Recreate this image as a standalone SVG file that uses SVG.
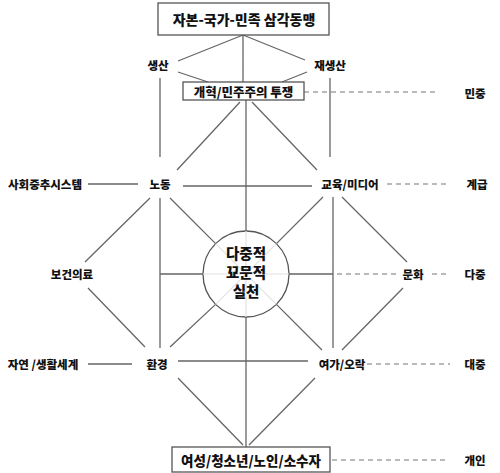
<svg xmlns="http://www.w3.org/2000/svg" width="500" height="473" viewBox="0 0 500 473">
<style>
text{font-family:"Noto Sans CJK KR","Noto Sans",sans-serif;font-weight:900;fill:#111;text-anchor:middle;dominant-baseline:central}
.lbl{font-size:11.5px}
.box{fill:#fff;stroke:#555;stroke-width:1.3}
.ln{stroke:#666;stroke-width:1.3;fill:none}
.ds{stroke:#777;stroke-width:1.2;stroke-dasharray:5 4;fill:none}
.in{stroke:#e2e2e2;stroke-width:1.2}
.big{font-size:14.5px}
</style>
<rect width="500" height="473" fill="#fff"/>
<g id="connectors">
<path class="ln" d="M243,35L178,61M243,35L305,60M243,35V82M178,72L208,82M307,72L282,82M160,78V157M330,78V157"/>
<path class="ln" d="M240,102L177,170M252,102L317,170M246,100V447"/>
<path class="ln" d="M183,186H312M88,184H138"/>
<path class="ln" d="M150,198L85,262M160,198V348M170,198L215.6,243.6M160,274H203M88,288L145,347M215.6,304.4L170,347"/>
<path class="ln" d="M323,197L276.4,243.6M333,197V348M342,197L407,262M289,274H333M403,288L342,350M276.4,304.4L322,350"/>
<path class="ln" d="M88,364H132M178,361H308M178,378L243,445M315,378L249,445"/>
<path class="ds" d="M304,92H438M387,184H447M337,274H397M432,274H450M367,364H450M332,460H447"/>
</g>
<g id="center">
<circle cx="246" cy="274" r="43" fill="#fff" stroke="#555" stroke-width="1.3"/>
<path class="in" d="M246,231V317M203,274H289M215.6,243.6L276.4,304.4M276.4,243.6L215.6,304.4"/>
<text class="big" x="246" y="252">다중적</text>
<text class="big" x="246" y="271">꾜문적</text>
<text class="big" x="246" y="290">실천</text>
</g>
<g id="top"><rect class="box" x="158" y="3" width="171" height="32"/><text x="244" y="19" style="font-size:14px">자본-국가-민족 삼각동맹</text></g>
<g id="struggle"><rect class="box" x="183" y="82" width="121" height="18"/><text x="243.5" y="91.5" style="font-size:12.5px">개혁/민주주의 투쟁</text></g>
<g id="bottom"><rect class="box" x="172" y="447" width="158" height="25"/><text x="251" y="460" style="font-size:13.5px">여성/청소년/노인/소수자</text></g>
<g id="production"><text class="lbl" x="158" y="65">생산</text></g>
<g id="reproduction"><text class="lbl" x="330" y="65">재생산</text></g>
<g id="minjung"><text class="lbl" x="475" y="93">민중</text></g>
<g id="social"><text class="lbl" x="45" y="184">사회중추시스템</text></g>
<g id="labor"><text class="lbl" x="160" y="184">노동</text></g>
<g id="edu"><text class="lbl" x="350" y="184">교육/미디어</text></g>
<g id="class"><text class="lbl" x="477" y="184">계급</text></g>
<g id="health"><text class="lbl" x="72" y="274">보건의료</text></g>
<g id="culture"><text class="lbl" x="413" y="274">문화</text></g>
<g id="multitude"><text class="lbl" x="475" y="274">다중</text></g>
<g id="nature"><text class="lbl" x="43" y="364">자연 /생활세계</text></g>
<g id="env"><text class="lbl" x="157" y="364">환경</text></g>
<g id="leisure"><text class="lbl" x="342" y="364">여가/오락</text></g>
<g id="mass"><text class="lbl" x="475" y="364">대중</text></g>
<g id="indiv"><text class="lbl" x="475" y="460">개인</text></g>
</svg>
